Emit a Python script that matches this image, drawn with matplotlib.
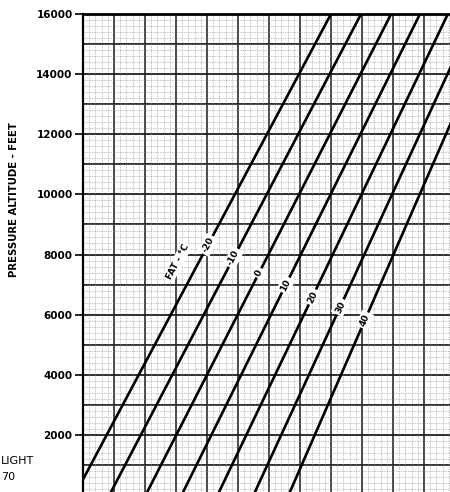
import numpy as np
import matplotlib
matplotlib.use("Agg")
import matplotlib.pyplot as plt
from matplotlib.ticker import MultipleLocator

# free air temperature lines
fat_labels = ["-20", "-10", "0", "10", "20", "30", "40"]
x_at_sea_level = [-0.27, 0.85, 2.02, 3.18, 4.34, 5.50, 6.63]
x_at_16000 = [8.00, 8.97, 9.94, 10.87, 11.77, 12.65, 13.40]
line_altitudes = [0, 16000]
label_altitudes = [8320, 7890, 7390, 6990, 6590, 6260, 5820]

fat_title = "FAT - °C"
fat_title_pos = (3.05, 7750)

ytick_values = list(range(2000, 16001, 2000))
ytick_labels = [str(v) for v in ytick_values]

W, H = 450, 492
fig = plt.figure(figsize=(W / 100, H / 100), dpi=100)
fig.patch.set_facecolor("white")

left_px, top_px = 83, 14
ax = fig.add_axes([left_px / W, 0, 1 - left_px / W, 1 - top_px / H])
ax.set_xlim(0, (W - left_px) / 31)
ax.set_ylim(104, 16000)

# fine dotted grid
ax.xaxis.set_minor_locator(MultipleLocator(0.2))
ax.yaxis.set_minor_locator(MultipleLocator(200))
ax.grid(which="minor", color="#8a8a8a", lw=0.5, ls=(0, (1, 1.5)))
# heavy grid
ax.xaxis.set_major_locator(MultipleLocator(1))
for xv in np.arange(1, 12):
    ax.axvline(xv, color="#2a2a2a", lw=1.2, zorder=1)
for yv in np.arange(1000, 16000, 1000):
    ax.axhline(yv, color="#1e1e1e", lw=1.3, zorder=1)

# temperature lines
for x0, x1 in zip(x_at_sea_level, x_at_16000):
    ax.plot([x0, x1], line_altitudes, color="black", lw=1.9, zorder=3,
            solid_capstyle="butt")

# labels along the lines
for lab, x0, x1, alt in zip(fat_labels, x_at_sea_level, x_at_16000, label_altitudes):
    xl = np.interp(alt, line_altitudes, [x0, x1])
    p0 = ax.transData.transform((x0, line_altitudes[0]))
    p1 = ax.transData.transform((x1, line_altitudes[1]))
    ang = np.degrees(np.arctan2(p1[1] - p0[1], p1[0] - p0[0]))
    ax.text(xl, alt, lab, rotation=ang, ha="center", va="center",
            fontsize=6.5, fontweight="bold", zorder=5,
            bbox=dict(facecolor="white", edgecolor="none", pad=1.5))

p0 = ax.transData.transform((x_at_sea_level[0], 0))
p1 = ax.transData.transform((x_at_16000[0], 16000))
ang0 = np.degrees(np.arctan2(p1[1] - p0[1], p1[0] - p0[0]))
ax.text(*fat_title_pos, fat_title, rotation=ang0, ha="center", va="center",
        fontsize=6.5, fontweight="bold", zorder=5,
        bbox=dict(facecolor="white", edgecolor="none", pad=1.0))

# axes / ticks
ax.set_yticks(ytick_values)
ax.set_yticklabels(ytick_labels, fontsize=7.5, fontweight="bold")
ax.yaxis.set_minor_locator(MultipleLocator(200))
ax.tick_params(axis="y", which="major", length=6, width=1.2, pad=1.5)
ax.tick_params(axis="y", which="minor", length=0)
ax.tick_params(axis="x", which="both", length=0, labelbottom=False)
ax.spines["right"].set_visible(False)
ax.spines["bottom"].set_visible(False)
ax.spines["top"].set_linewidth(2.0)
ax.spines["left"].set_linewidth(1.6)

fig.text(14 / W, 1 - 200 / H, "PRESSURE ALTITUDE - FEET", rotation=90,
         ha="center", va="center", fontsize=7.3, fontweight="bold")
fig.text(1 / W, 1 - 461 / H, "LIGHT", ha="left", va="center", fontsize=8)
fig.text(1 / W, 1 - 477 / H, "70", ha="left", va="center", fontsize=8)

fig.savefig("out.png", dpi=100, facecolor="white")
